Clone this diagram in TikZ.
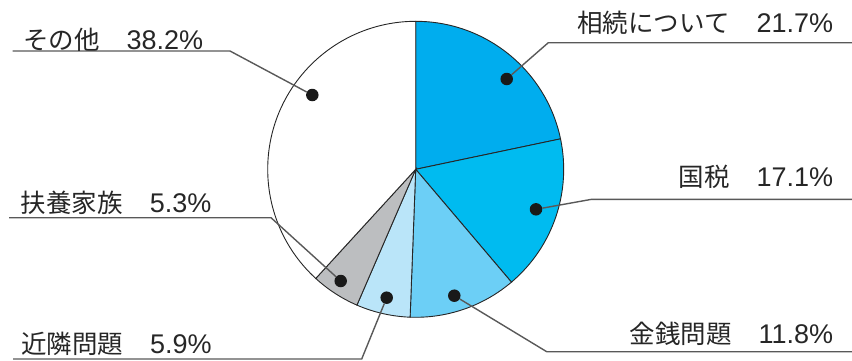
\documentclass[tikz,border=0pt]{standalone}
\usepackage{fontspec}
\setmainfont{Noto Sans CJK JP}
\newfontfamily\numfont{Liberation Sans}
\usepackage{tikz}

\definecolor{souzoku}{HTML}{00ADEE}
\definecolor{kokuzei}{HTML}{00BBF0}
\definecolor{kinsen}{HTML}{6CCFF6}
\definecolor{kinrin}{HTML}{BAE5F9}
\definecolor{fuyou}{HTML}{BCBEC0}
\definecolor{sonota}{HTML}{FFFFFF}

\newcommand\pct[1]{\hspace{27pt}{\numfont\fontsize{27}{27}\selectfont #1}}

\tikzset{
  slice/.style={draw=black!85, line width=0.9pt},
  pt/.style={circle, fill=black!90, inner sep=0pt, minimum size=12.5pt},
  leader/.style={draw=black!65, line width=1.4pt},
  lbl/.style={inner sep=0pt, font=\fontsize{25.5}{25.5}\selectfont, text=black!85}
}

\begin{document}
\begin{tikzpicture}[x=1pt,y=1pt]
    \useasboundingbox (0,0) rectangle (852,360);
    \coordinate (c) at (415.7,190.7);
    % slices, clockwise from the top
    \foreach \a/\b/\col in {90/11.88/souzoku, 11.88/-49.68/kokuzei,
        -49.68/-92.16/kinsen, -92.16/-113.4/kinrin,
        -113.4/-132.48/fuyou, -132.48/-270/sonota}
      \filldraw[slice, fill=\col] (c) -- ++(\a:148pt)
        arc[start angle=\a, end angle=\b, radius=148pt] -- cycle;

    % dots
    \node[pt] (souzokudot) at (506.7,281) {};
    \node[pt] (kokuzeidot) at (536,150.7) {};
    \node[pt] (kinsendot) at (454.3,64.3) {};
    \node[pt] (kinrindot) at (386.7,62.3) {};
    \node[pt] (fuyoudot) at (340.7,79) {};
    \node[pt] (sonotadot) at (312.3,265) {};

    % leaders
    \coordinate (souzokubend) at (548.3,317.3);
    \coordinate (souzokuend) at (852,317.3);
    \coordinate (kokuzeibend) at (591.7,160.7);
    \coordinate (kokuzeiend) at (852,160.7);
    \coordinate (kinsenbend) at (546.7,8.3);
    \coordinate (kinsenend) at (852,8.3);
    \coordinate (kinrinbend) at (361.7,1);
    \coordinate (kinrinend) at (13,1);
    \coordinate (fuyoubend) at (271,142.3);
    \coordinate (fuyouend) at (9,142.3);
    \coordinate (sonotabend) at (230,309);
    \coordinate (sonotaend) at (12.7,309);
    \draw[leader] (souzokudot) -- (souzokubend) -- (souzokuend);
    \draw[leader] (kokuzeidot) -- (kokuzeibend) -- (kokuzeiend);
    \draw[leader] (kinsendot) -- (kinsenbend) -- (kinsenend);
    \draw[leader] (kinrindot) -- (kinrinbend) -- (kinrinend);
    \draw[leader] (fuyoudot) -- (fuyoubend) -- (fuyouend);
    \draw[leader] (sonotadot) -- (sonotabend) -- (sonotaend);

    % labels
    \node[lbl, anchor=base east] (souzokulbl) at (833.3,328) {相続について\pct{21.7\%}};
    \node[lbl, anchor=base east] (kokuzeilbl) at (833.3,174) {国税\pct{17.1\%}};
    \node[lbl, anchor=base east] (kinsenlbl) at (833.3,16.7) {金銭問題\pct{11.8\%}};
    \node[lbl, anchor=base west] (kinrinlbl) at (21,6.7) {近隣問題\pct{5.9\%}};
    \node[lbl, anchor=base west] (fuyoulbl) at (20.7,148) {扶養家族\pct{5.3\%}};
    \node[lbl, anchor=base west] (sonotalbl) at (23,311) {その他\pct{38.2\%}};
\end{tikzpicture}
\end{document}
